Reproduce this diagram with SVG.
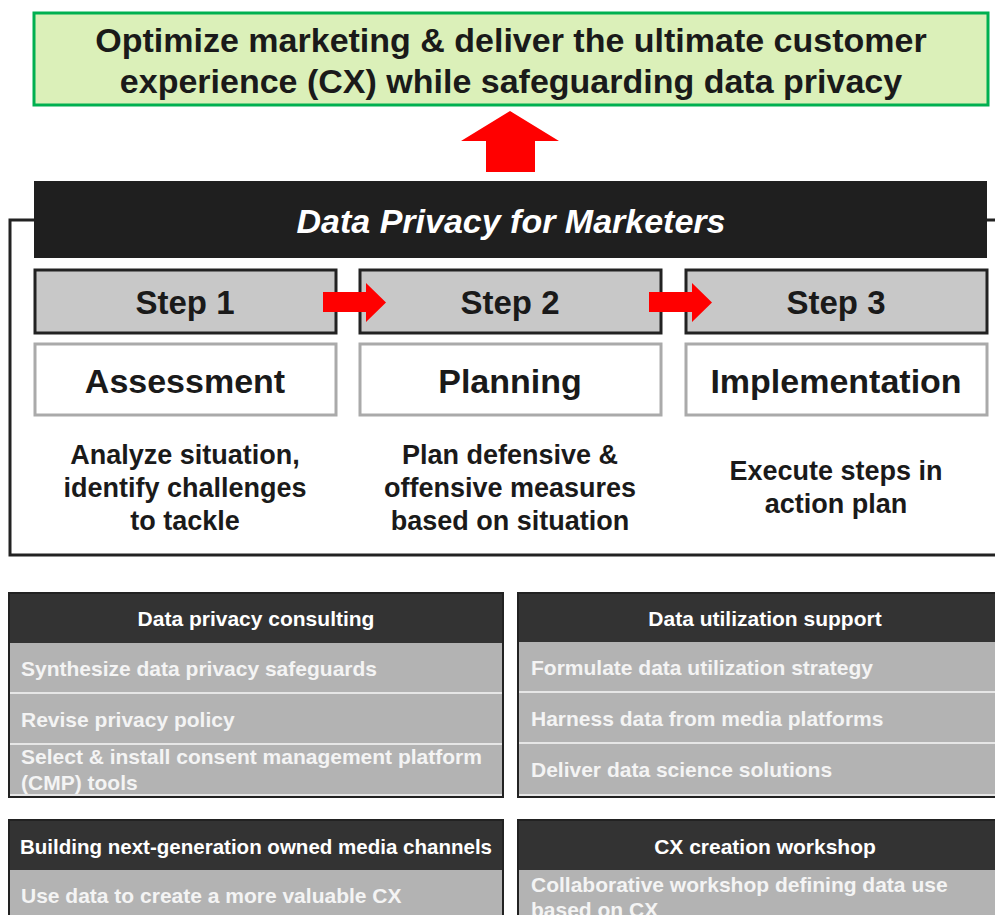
<svg xmlns="http://www.w3.org/2000/svg" width="995" height="915" viewBox="0 0 995 915">
<style>
text{font-family:"Liberation Sans",Arial,sans-serif;font-weight:bold}
.goal{font-size:34px;fill:#1a1a1a;text-anchor:middle}
.title{font-size:34px;fill:#fff;font-style:italic;text-anchor:middle}
.step{fill:#c8c8c8;stroke:#222;stroke-width:3}
.stept{font-size:33px;fill:#1a1a1a;text-anchor:middle}
.name{fill:#fff;stroke:#aaa;stroke-width:3}
.namet{font-size:34px;fill:#1a1a1a;text-anchor:middle}
.desc{font-size:27px;fill:#1a1a1a;text-anchor:middle}
.hdr{fill:#333}
.hdrt{font-size:21px;fill:#fff;text-anchor:middle}
.row{fill:#b3b3b3}
.rowt{font-size:21px;fill:#f4f4f4}
.sep{stroke:#e6e6e6;stroke-width:2}
.pb{fill:none;stroke:#222;stroke-width:2}
.red{fill:#ff0000}
</style>
<g id="frame"><path d="M995,220 H10 V555 H995" fill="none" stroke="#222" stroke-width="3"/></g>
<g id="goal">
<rect x="34" y="13" width="954" height="92" fill="#dbf0b9" stroke="#00b050" stroke-width="3"/>
<text class="goal" x="511" y="52">Optimize marketing &amp; deliver the ultimate customer</text>
<text class="goal" x="511" y="93">experience (CX) while safeguarding data privacy</text>
</g>
<g id="title">
<rect x="34" y="181" width="953" height="77" fill="#1f1f1f"/>
<text class="title" x="511" y="233">Data Privacy for Marketers</text>
</g>
<g id="step1">
<rect class="step" x="35" y="270" width="301" height="63"/>
<text class="stept" x="185" y="314">Step 1</text>
<rect class="name" x="35" y="344" width="301" height="71"/>
<text class="namet" x="185" y="393">Assessment</text>
<text class="desc" x="185" y="464">Analyze situation,</text>
<text class="desc" x="185" y="497">identify challenges</text>
<text class="desc" x="185" y="530">to tackle</text>
</g>
<g id="step2">
<rect class="step" x="360" y="270" width="301" height="63"/>
<text class="stept" x="510" y="314">Step 2</text>
<rect class="name" x="360" y="344" width="301" height="71"/>
<text class="namet" x="510" y="393">Planning</text>
<text class="desc" x="510" y="464">Plan defensive &amp;</text>
<text class="desc" x="510" y="497">offensive measures</text>
<text class="desc" x="510" y="530">based on situation</text>
</g>
<g id="step3">
<rect class="step" x="686" y="270" width="301" height="63"/>
<text class="stept" x="836" y="314">Step 3</text>
<rect class="name" x="686" y="344" width="301" height="71"/>
<text class="namet" x="836" y="393">Implementation</text>
<text class="desc" x="836" y="480">Execute steps in</text>
<text class="desc" x="836" y="513">action plan</text>
</g>
<g id="connectors">
<polygon class="red" points="510,111 559,141 535,141 535,172 486,172 486,141 461,141"/>
<polygon class="red" points="323,292 366,292 366,283 386,302.5 366,322 366,312 323,312"/>
<polygon class="red" points="649,292 692,292 692,283 712,302.5 692,322 692,312 649,312"/>
</g>
<g id="consulting">
<rect class="row" x="9" y="643" width="494" height="153"/>
<rect class="hdr" x="9" y="593" width="494" height="50"/>
<line class="sep" x1="10" y1="693" x2="502" y2="693"/>
<line class="sep" x1="10" y1="744" x2="502" y2="744"/>
<line class="sep" x1="10" y1="795" x2="502" y2="795"/>
<rect class="pb" x="9" y="593" width="494" height="204"/>
<text class="hdrt" x="256" y="626">Data privacy consulting</text>
<text class="rowt" x="21" y="676">Synthesize data privacy safeguards</text>
<text class="rowt" x="21" y="727">Revise privacy policy</text>
<text class="rowt" x="21" y="764">Select &amp; install consent management platform</text>
<text class="rowt" x="21" y="790">(CMP) tools</text>
</g>
<g id="utilization">
<rect class="row" x="518" y="642" width="480" height="154"/>
<rect class="hdr" x="518" y="593" width="480" height="49"/>
<line class="sep" x1="519" y1="692" x2="995" y2="692"/>
<line class="sep" x1="519" y1="743" x2="995" y2="743"/>
<line class="sep" x1="519" y1="795" x2="995" y2="795"/>
<rect class="pb" x="518" y="593" width="490" height="204"/>
<text class="hdrt" x="765" y="626">Data utilization support</text>
<text class="rowt" x="531" y="675">Formulate data utilization strategy</text>
<text class="rowt" x="531" y="726">Harness data from media platforms</text>
<text class="rowt" x="531" y="777">Deliver data science solutions</text>
</g>
<g id="owned-media">
<rect class="row" x="9" y="870" width="494" height="50"/>
<rect class="hdr" x="9" y="820" width="494" height="50"/>
<rect class="pb" x="9" y="820" width="494" height="110"/>
<text class="hdrt" x="256" y="854" textLength="472" lengthAdjust="spacingAndGlyphs">Building next-generation owned media channels</text>
<text class="rowt" x="21" y="903">Use data to create a more valuable CX</text>
</g>
<g id="workshop">
<rect class="row" x="518" y="870" width="480" height="50"/>
<rect class="hdr" x="518" y="820" width="480" height="50"/>
<rect class="pb" x="518" y="820" width="490" height="110"/>
<text class="hdrt" x="765" y="854">CX creation workshop</text>
<text class="rowt" x="531" y="892">Collaborative workshop defining data use</text>
<text class="rowt" x="531" y="917">based on CX</text>
</g>
</svg>
